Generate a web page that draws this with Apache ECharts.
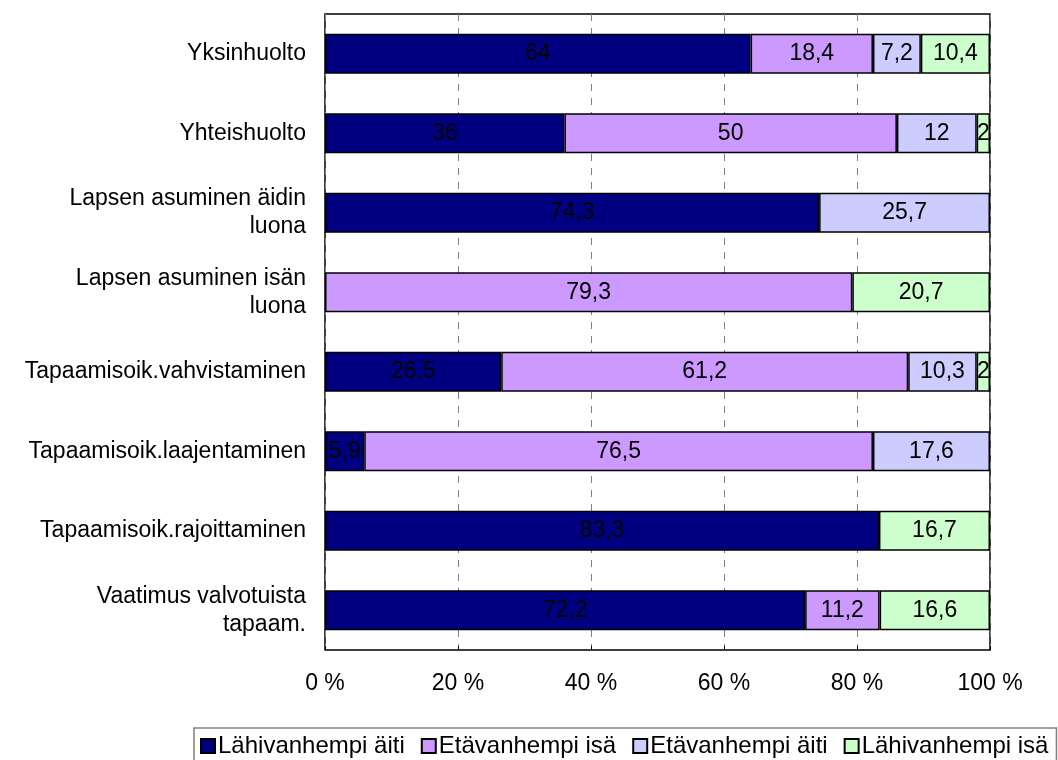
<!DOCTYPE html>
<html><head><meta charset="utf-8">
<script src="https://cdn.jsdelivr.net/npm/echarts@6/dist/echarts.min.js"></script>
<style>html,body{margin:0;padding:0;background:#fff}#c{width:1058px;height:760px}</style>
</head><body><div id="c"></div>
<script>
const categories = ["Yksinhuolto","Yhteishuolto","Lapsen asuminen äidin\nluona","Lapsen asuminen isän\nluona","Tapaamisoik.vahvistaminen","Tapaamisoik.laajentaminen","Tapaamisoik.rajoittaminen","Vaatimus valvotuista\ntapaam."];
const seriesNames = ["Lähivanhempi äiti","Etävanhempi isä","Etävanhempi äiti","Lähivanhempi isä"];
const lahiAiti = [64, 36, 74.3, null, 26.5, 5.9, 83.3, 72.2];
const etaIsa   = [18.4, 50, null, 79.3, 61.2, 76.5, null, 11.2];
const etaAiti  = [7.2, 12, 25.7, null, 10.3, 17.6, null, null];
const lahiIsa  = [10.4, 2, null, 20.7, 2, null, 16.7, 16.6];
const xTicks = [0, 20, 40, 60, 80, 100];
const colors = ["#000080","#CC99FF","#CCCCFF","#CCFFCC"];
const allData = [lahiAiti, etaIsa, etaAiti, lahiIsa];

const font = "Liberation Sans, Arial, sans-serif";
const chart = echarts.init(document.getElementById('c'), null, {renderer:'canvas'});
chart.setOption({
  animation:false,
  textStyle:{fontFamily:font},
  grid:{left:325, top:14, width:665, height:636, show:true, borderColor:'#000', borderWidth:1.5, backgroundColor:'#fff'},
  xAxis:{type:'value', min:xTicks[0], max:xTicks[xTicks.length-1], interval:20,
    axisLine:{show:false}, axisTick:{show:true, inside:true, length:4, lineStyle:{color:'#000'}},
    splitLine:{show:true, lineStyle:{color:'#808080', type:[7,7], width:1}},
    axisLabel:{formatter:'{value} %', color:'#000', fontSize:23, fontFamily:font, margin:22}},
  yAxis:{type:'category', data:categories, inverse:true,
    axisLine:{show:false}, axisTick:{show:false},
    axisLabel:{color:'#000', fontSize:23, fontFamily:font, margin:19, lineHeight:28, align:'right'}},
  legend:{data:seriesNames, left:194, top:728, width:950, padding:[6,8,6,6], itemGap:16, itemWidth:14, itemHeight:14,
    borderColor:'#808080', borderWidth:1.5, icon:'rect',
    itemStyle:{borderColor:'#000', borderWidth:2},
    textStyle:{fontSize:24, color:'#000', fontFamily:font, padding:[0,0,0,-2]}},
  series: seriesNames.map((n,i)=>({
    name:n, type:'bar', stack:'a', barWidth:40, data:allData[i],
    itemStyle:{color:colors[i], borderColor:'#000', borderWidth:1.5},
    label:{show:true, position:'inside', color:'#000', fontSize:23, fontFamily:font,
      formatter:p=> p.value==null?'':String(p.value).replace('.',',')}
  }))
});
</script></body></html>
